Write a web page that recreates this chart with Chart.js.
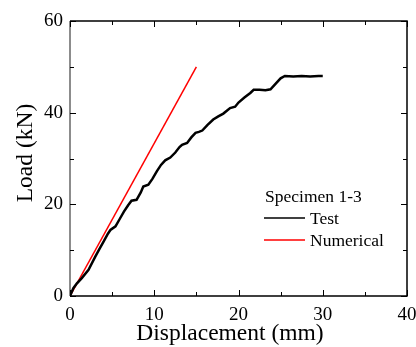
<!DOCTYPE html>
<html>
<head>
<meta charset="utf-8">
<script src="https://cdn.jsdelivr.net/npm/chart.js@4/dist/chart.umd.min.js"></script>
<style>
  html, body { margin: 0; padding: 0; background: #fff; }
  #wrap { width: 416px; height: 347px; }
</style>
</head>
<body>
<div id="wrap"><canvas id="chart"></canvas></div>
<script>
// test curve
const testX = [0, 0.4, 0.8, 1.4, 2.2, 3.0, 3.5, 4.0, 4.5, 4.8, 5.4, 5.9, 6.4, 6.9, 7.3, 7.9, 8.4, 8.7, 9.3, 9.8,
  10.3, 10.8, 11.3, 11.9, 12.5, 13.0, 13.3, 13.9, 14.4, 14.9, 15.3, 15.7, 16.3, 17.0, 17.6, 18.2, 19.0, 19.6,
  20.0, 20.7, 21.4, 21.8, 22.5, 23.2, 23.8, 24.5, 25.0, 25.5, 26.5, 27.5, 28.5, 29.5, 30.0];
const testY = [0, 1.7, 2.7, 3.9, 5.7, 8.6, 10.3, 11.9, 13.6, 14.4, 15.2, 16.8, 18.4, 19.8, 20.8, 21.0, 22.6, 23.9, 24.3, 25.6,
  27.2, 28.6, 29.6, 30.2, 31.3, 32.5, 33.0, 33.4, 34.6, 35.6, 35.8, 36.1, 37.3, 38.5, 39.2, 39.8, 41.0, 41.3,
  42.2, 43.3, 44.3, 45.0, 45.0, 44.9, 45.1, 46.5, 47.5, 48.0, 47.9, 48.0, 47.9, 48.0, 48.0];

const numX = [0, 15];
const numY = [0, 50];

const legendTitle = 'Specimen 1-3';
const seriesNames = ['Test', 'Numerical'];
const seriesColors = ['#000000', '#ff0000'];

const xTicks = [0, 10, 20, 30, 40];
const yTicks = [0, 20, 40, 60];
const xTitle = 'Displacement (mm)';
const yTitle = 'Load (kN)';

const toPoints = (xs, ys) => xs.map((x, i) => ({ x: x, y: ys[i] }));

const FONT = "'Liberation Serif', 'Times New Roman', serif";

// box + inward ticks + axis titles + legend
const framePlugin = {
  id: 'frame',
  afterDraw(chart) {
    const ctx = chart.ctx;
    const a = chart.chartArea;
    const xs = chart.scales.x, ys = chart.scales.y;
    ctx.save();
    ctx.lineWidth = 1.5;
    ctx.strokeStyle = '#000';
    ctx.beginPath();
    ctx.moveTo(a.left, a.top); ctx.lineTo(a.right, a.top); ctx.lineTo(a.right, a.bottom); ctx.lineTo(a.left, a.bottom);
    ctx.stroke();
    ctx.strokeStyle = '#666';
    ctx.beginPath();
    ctx.moveTo(a.left, a.top); ctx.lineTo(a.left, a.bottom);
    ctx.stroke();

    ctx.strokeStyle = '#000';
    ctx.lineWidth = 1;
    for (let v = 0; v <= 40; v += 5) {
      const px = Math.round(xs.getPixelForValue(v)) + 0.5;
      const len = v % 10 === 0 ? 6 : 4;
      ctx.beginPath();
      ctx.moveTo(px, a.bottom); ctx.lineTo(px, a.bottom - len);
      ctx.moveTo(px, a.top); ctx.lineTo(px, a.top + len);
      ctx.stroke();
    }
    for (let v = 0; v <= 60; v += 10) {
      const py = Math.round(ys.getPixelForValue(v)) + 0.5;
      const len = v % 20 === 0 ? 6 : 4;
      ctx.beginPath();
      ctx.moveTo(a.left, py); ctx.lineTo(a.left + len, py);
      ctx.moveTo(a.right, py); ctx.lineTo(a.right - len, py);
      ctx.stroke();
    }

    // axis titles
    ctx.fillStyle = '#000';
    ctx.font = '23.5px ' + FONT;
    ctx.textAlign = 'center';
    ctx.textBaseline = 'alphabetic';
    ctx.fillText(xTitle, 230, 340);
    ctx.save();
    ctx.translate(32, 153);
    ctx.rotate(-Math.PI / 2);
    ctx.fillText(yTitle, 0, 0);
    ctx.restore();

    // legend
    ctx.font = '17.5px ' + FONT;
    ctx.textAlign = 'left';
    ctx.fillText(legendTitle, 265, 202);
    const rows = [218, 240];
    seriesNames.forEach((name, i) => {
      ctx.strokeStyle = seriesColors[i];
      ctx.lineWidth = 1.5;
      ctx.beginPath();
      ctx.moveTo(264, rows[i]); ctx.lineTo(305, rows[i]);
      ctx.stroke();
      ctx.fillText(name, 310, rows[i] + 6);
    });
    ctx.restore();
  }
};

new Chart(document.getElementById('chart'), {
  type: 'scatter',
  data: {
    datasets: [
      {
        label: seriesNames[0],
        data: toPoints(testX, testY),
        showLine: true,
        borderColor: seriesColors[0],
        borderWidth: 2.5,
        pointRadius: 0,
        tension: 0
      },
      {
        label: seriesNames[1],
        data: toPoints(numX, numY),
        showLine: true,
        borderColor: seriesColors[1],
        borderWidth: 1.5,
        pointRadius: 0
      }
    ]
  },
  options: {
    responsive: true,
    maintainAspectRatio: false,
    animation: false,
    layout: { padding: { top: 21, right: 0, left: 0, bottom: 0 } },
    plugins: {
      legend: { display: false },
      tooltip: { enabled: false }
    },
    scales: {
      x: {
        type: 'linear',
        min: 0, max: 40,
        afterBuildTicks: s => { s.ticks = xTicks.map(v => ({ value: v })); },
        afterFit: s => { s.height = 51; s.paddingRight = 9; s.paddingLeft = 0; },
        grid: { display: false, drawTicks: false },
        border: { display: false },
        ticks: { color: '#000', font: { family: FONT, size: 19 }, padding: 8, maxRotation: 0 },
        title: { display: false }
      },
      y: {
        type: 'linear',
        min: 0, max: 60,
        afterBuildTicks: s => { s.ticks = yTicks.map(v => ({ value: v })); },
        afterFit: s => { s.width = 70; },
        grid: { display: false, drawTicks: false },
        border: { display: false },
        ticks: { color: '#000', font: { family: FONT, size: 19 }, padding: 7 },
        title: { display: false }
      }
    }
  },
  plugins: [framePlugin]
});
</script>
</body>
</html>
